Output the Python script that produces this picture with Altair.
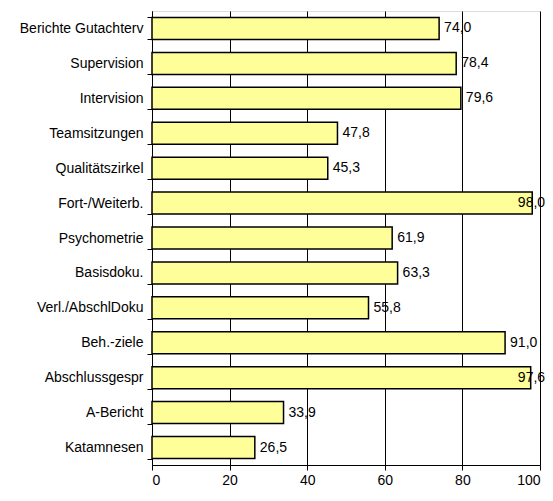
import altair as alt
import pandas as pd

categories = ["Berichte Gutachterv", "Supervision", "Intervision", "Teamsitzungen",
              "Qualitätszirkel", "Fort-/Weiterb.", "Psychometrie", "Basisdoku.",
              "Verl./AbschlDoku", "Beh.-ziele", "Abschlussgespr", "A-Bericht", "Katamnesen"]
values = [74.0, 78.4, 79.6, 47.8, 45.3, 98.0, 61.9, 63.3, 55.8, 91.0, 97.6, 33.9, 26.5]
x_ticks = [0, 20, 40, 60, 80, 100]

df = pd.DataFrame({
    "cat": categories,
    "val": values,
    "label": [f"{v:.1f}".replace(".", ",") for v in values],
    "lx": [min(v, 93.0) for v in values],
})

font = "Liberation Sans"
fs = 14

y_enc = alt.Y("cat:N", sort=categories, title=None,
              scale=alt.Scale(paddingInner=0.37, paddingOuter=0.185),
              axis=alt.Axis(tickBand="extent", tickSize=5, tickColor="black",
                            domainColor="black", labelColor="black", labelFontSize=fs,
                            labelFont=font, labelPadding=4, grid=False))

bars = alt.Chart(df).mark_bar(color="#FFFF99", stroke="black", strokeWidth=1.5).encode(
    x=alt.X("val:Q", title=None,
            scale=alt.Scale(domain=[0, 100], nice=False),
            axis=alt.Axis(values=x_ticks, tickSize=5, tickColor="black", domainColor="black",
                          labelColor="black", labelFontSize=fs, labelFont=font,
                          labelPadding=3, grid=True, gridColor="black", gridOpacity=1,
                          gridWidth=1)),
    y=y_enc,
)

text = alt.Chart(df).mark_text(align="left", baseline="middle", dx=5, fontSize=fs,
                               font=font, color="black").encode(
    x=alt.X("lx:Q"),
    y=alt.Y("cat:N", sort=categories),
    text="label:N",
)

chart = alt.layer(bars, text).properties(
    width=388, height=454,
    autosize=alt.AutoSizeParams(type="none"),
    padding={"left": 144, "top": 3, "right": 5, "bottom": 28},
).configure_view(stroke="black", strokeWidth=1.5).configure(background="white")

chart.save("out.html", embed_options={"renderer": "svg", "actions": False})
